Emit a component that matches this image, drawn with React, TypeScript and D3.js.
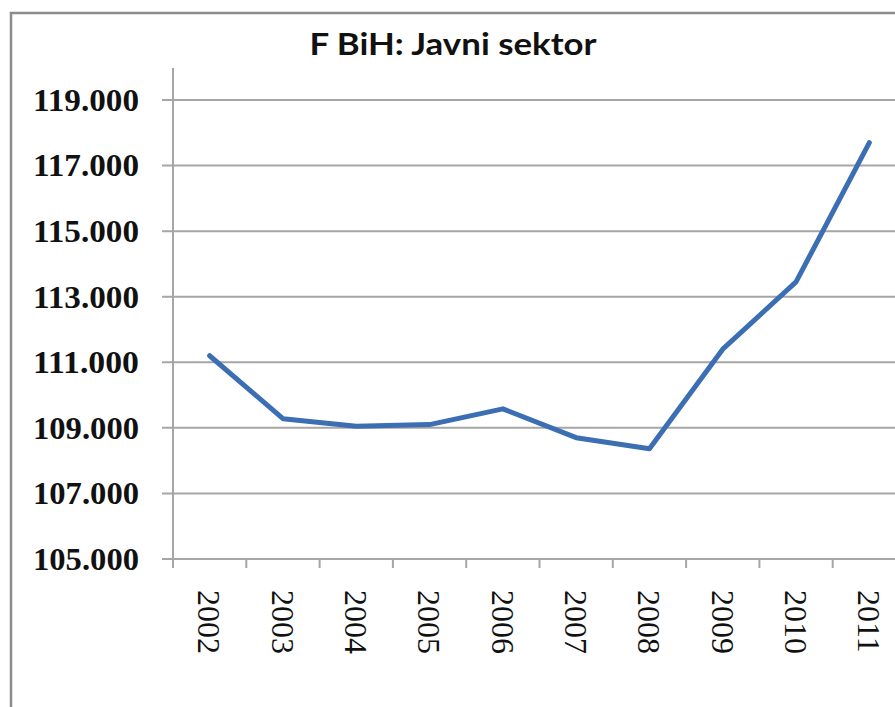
import React from "react";
import * as d3 from "d3";

const years = ["2002", "2003", "2004", "2005", "2006", "2007", "2008", "2009", "2010", "2011"];
const values = [111200, 109280, 109050, 109100, 109580, 108700, 108360, 111400, 113450, 117700];
const yTicks = [105000, 107000, 109000, 111000, 113000, 115000, 117000, 119000];
const title = "F BiH: Javni sektor";

const fmt = (v: number) => d3.format(",.3f")(v / 1000).replace(/,/g, "");

export default function App() {
  const W = 895;
  const H = 707;
  const left = 173;
  const right = 906;
  const top = 68;
  const y = d3.scaleLinear().domain([105000, 119000]).range([559, 100]);
  const x = d3.scaleBand<string>().domain(years).range([left, right]).padding(0);
  const line = d3
    .line<number>()
    .x((_, i) => (x(years[i]) as number) + x.bandwidth() / 2)
    .y((d) => y(d));
  const grid = "#a6a6a6";
  const tickPositions = [...years.map((yr) => x(yr) as number), right];
  return (
    <svg
      width={W}
      height={H}
      style={{ position: "absolute", left: 0, top: 0, background: "#fff" }}
    >
      <rect x={0} y={0} width={W} height={H} fill="#fff" />
      {/* frame */}
      <path d={`M11,${H + 5} L11,13 L${W + 5},13`} fill="none" stroke="#8c8c8c" strokeWidth={2.5} />
      {/* title */}
      <text
        x={453}
        y={55}
        textAnchor="middle"
        fontFamily="Lato, 'Open Sans', sans-serif"
        fontWeight="bold"
        fontSize={31}
        textLength={287}
        lengthAdjust="spacingAndGlyphs"
        fill="#111"
      >
        {title}
      </text>
      {/* gridlines */}
      {yTicks.map((t) => (
        <g key={t}>
          <line x1={162} x2={right} y1={y(t)} y2={y(t)} stroke={grid} strokeWidth={2} />
          <text
            x={139}
            y={y(t)}
            dy="0.35em"
            textAnchor="end"
            fontFamily="'Liberation Serif', serif"
            fontWeight="bold"
            fontSize={31}
            textLength={106}
            lengthAdjust="spacingAndGlyphs"
            fill="#111"
          >
            {fmt(t)}
          </text>
        </g>
      ))}
      {/* y axis */}
      <line x1={left} x2={left} y1={top} y2={568} stroke={grid} strokeWidth={2} />
      {/* x ticks */}
      {tickPositions.map((p, i) => (
        <line key={i} x1={p} x2={p} y1={y(105000)} y2={568} stroke={grid} strokeWidth={2} />
      ))}
      {/* x labels */}
      {years.map((yr) => {
        const cx = (x(yr) as number) + x.bandwidth() / 2;
        return (
          <text
            key={yr}
            transform={`translate(${cx},590) rotate(90)`}
            dy="0.35em"
            textAnchor="start"
            fontFamily="'Liberation Serif', serif"
            fontSize={32}
            fill="#111"
          >
            {yr}
          </text>
        );
      })}
      {/* line */}
      <path
        d={line(values) as string}
        fill="none"
        stroke="#3c6eb4"
        strokeWidth={5}
        strokeLinejoin="round"
        strokeLinecap="round"
      />
    </svg>
  );
}
